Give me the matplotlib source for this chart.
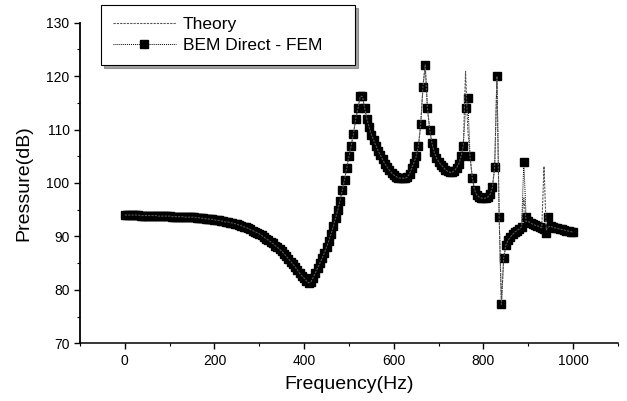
import matplotlib
matplotlib.use("Agg")
import matplotlib.pyplot as plt
from matplotlib.ticker import MultipleLocator

plt.rcParams['font.family'] = ['Liberation Sans', 'DejaVu Sans']

# frequency grid (Hz), 5 Hz step
freq_hz = list(range(0, 1001, 5))

# BEM Direct - FEM result (dB)
bem_db = [
    94.0, 94.0, 94.0, 94.0, 94.0, 94.0, 94.0, 93.9, 93.9, 93.9,
    93.9, 93.9, 93.9, 93.9, 93.9, 93.8, 93.8, 93.8, 93.8, 93.8,
    93.8, 93.7, 93.7, 93.7, 93.7, 93.7, 93.7, 93.6, 93.6, 93.6,
    93.6, 93.6, 93.5, 93.5, 93.4, 93.4, 93.3, 93.3, 93.2, 93.2,
    93.1, 93.0, 93.0, 92.9, 92.8, 92.7, 92.7, 92.6, 92.5, 92.4,
    92.3, 92.1, 92.0, 91.8, 91.7, 91.5, 91.3, 91.1, 90.9, 90.7,
    90.5, 90.2, 89.9, 89.6, 89.3, 89.0, 88.7, 88.3, 88.0, 87.6,
    87.2, 86.8, 86.3, 85.8, 85.3, 84.8, 84.3, 83.7, 83.1, 82.6,
    82.2, 81.7, 81.3, 81.5, 82.3, 83.2, 84.1, 85.0, 85.9, 86.9,
    88.0, 89.2, 90.5, 91.9, 93.4, 95.0, 96.7, 98.6, 100.6, 102.8,
    105.0, 107.0, 109.2, 112.0, 114.0, 116.2, 116.2, 114.0, 112.0, 110.4,
    109.0, 108.0, 107.0, 106.0, 105.2, 104.4, 103.6, 103.0, 102.4, 101.9,
    101.5, 101.2, 101.0, 100.9, 100.9, 100.9, 101.1, 101.7, 102.8, 103.8,
    105.0, 107.0, 111.0, 118.0, 122.1, 114.0, 110.0, 107.5, 105.8, 104.7,
    104.0, 103.4, 103.0, 102.5, 102.2, 102.0, 102.0, 102.3, 102.8, 103.6,
    105.0, 107.0, 114.0, 116.0, 105.0, 101.0, 98.7, 97.8, 97.4, 97.2,
    97.1, 97.2, 97.4, 97.9, 99.2, 103.0, 120.0, 93.7, 77.3, 85.9,
    88.4, 89.3, 89.9, 90.4, 90.8, 91.1, 91.4, 91.8, 104.0, 93.7,
    92.8, 92.5, 92.3, 92.1, 92.0, 91.8, 91.6, 91.3, 90.6, 93.7,
    91.9, 91.7, 91.6, 91.5, 91.4, 91.3, 91.2, 91.1, 91.0, 90.9,
    90.8,
]

# Theory curve (dB), same grid; differs from BEM only at the sharp resonances
theory_db = [
    94.0, 94.0, 94.0, 94.0, 94.0, 94.0, 94.0, 93.9, 93.9, 93.9,
    93.9, 93.9, 93.9, 93.9, 93.9, 93.8, 93.8, 93.8, 93.8, 93.8,
    93.8, 93.7, 93.7, 93.7, 93.7, 93.7, 93.7, 93.6, 93.6, 93.6,
    93.6, 93.6, 93.5, 93.5, 93.4, 93.4, 93.3, 93.3, 93.2, 93.2,
    93.1, 93.0, 93.0, 92.9, 92.8, 92.7, 92.7, 92.6, 92.5, 92.4,
    92.3, 92.1, 92.0, 91.8, 91.7, 91.5, 91.3, 91.1, 90.9, 90.7,
    90.5, 90.2, 89.9, 89.6, 89.3, 89.0, 88.7, 88.3, 88.0, 87.6,
    87.2, 86.8, 86.3, 85.8, 85.3, 84.8, 84.3, 83.7, 83.1, 82.6,
    82.2, 81.7, 81.3, 81.5, 82.3, 83.2, 84.1, 85.0, 85.9, 86.9,
    88.0, 89.2, 90.5, 91.9, 93.4, 95.0, 96.7, 98.6, 100.6, 102.8,
    105.0, 107.0, 109.2, 112.0, 114.0, 116.2, 116.2, 114.0, 112.0, 110.4,
    109.0, 108.0, 107.0, 106.0, 105.2, 104.4, 103.6, 103.0, 102.4, 101.9,
    101.5, 101.2, 101.0, 100.9, 100.9, 100.9, 101.1, 101.7, 102.8, 103.8,
    105.0, 107.0, 111.0, 118.0, 122.1, 114.0, 110.0, 107.5, 105.8, 104.7,
    104.0, 103.4, 103.0, 102.5, 102.2, 102.0, 102.0, 102.3, 102.8, 103.6,
    105.0, 107.0, 120.9, 110.0, 105.0, 101.0, 98.7, 97.8, 97.4, 97.2,
    97.1, 97.2, 97.4, 97.9, 99.2, 103.0, 120.0, 93.7, 77.3, 85.9,
    88.4, 89.3, 89.9, 90.4, 90.8, 91.1, 91.4, 91.8, 97.2, 92.8,
    92.8, 92.5, 92.3, 92.1, 92.0, 91.8, 91.6, 103.1, 91.2, 91.8,
    91.9, 91.7, 91.6, 91.5, 91.4, 91.3, 91.2, 91.1, 91.0, 90.9,
    90.8,
]

y_ticks = [70, 80, 90, 100, 110, 120, 130]
x_ticks = [0, 200, 400, 600, 800, 1000]

fig = plt.figure(figsize=(6.27, 4.01), dpi=100)
ax = fig.add_axes([0.1276, 0.1439, 0.8580, 0.7995])

ax.plot(freq_hz, theory_db, color='#555555', linewidth=0.8,
        linestyle=(0, (2, 1)), label='Theory', zorder=3)
ax.plot(freq_hz, bem_db, color='black', linewidth=0.7, linestyle=(0, (1, 1)),
        marker='s', markersize=6, markerfacecolor='black',
        markeredgecolor='black', label='BEM Direct - FEM', zorder=2)

ax.set_xlim(-100, 1100)
ax.set_ylim(70, 130)
ax.set_xticks(x_ticks)
ax.set_yticks(y_ticks)
ax.xaxis.set_minor_locator(MultipleLocator(100))
ax.yaxis.set_minor_locator(MultipleLocator(5))
ax.tick_params(which='major', direction='out', length=4.5, width=1.0,
               labelsize=10, pad=3)
ax.tick_params(which='minor', direction='out', length=2.5, width=0.8)

ax.spines['top'].set_visible(False)
ax.spines['right'].set_visible(False)
ax.spines['left'].set_linewidth(1.3)
ax.spines['bottom'].set_linewidth(1.1)

ax.set_xlabel('Frequency(Hz)', fontsize=14, labelpad=6)
ax.set_ylabel('Pressure(dB)', fontsize=14, labelpad=10)

# legend box: x 101..355 px, y 5..65 px in the figure
leg_w = 254 / 627
leg_h = 60 / 401
leg = ax.legend(loc='upper left',
                bbox_to_anchor=(101 / 627, 1 - 5 / 401 - leg_h, leg_w, leg_h),
                bbox_transform=fig.transFigure, mode='expand', fontsize=12.5,
                handlelength=3.6, handletextpad=0.4, borderpad=0.7,
                labelspacing=0.3, fancybox=False, shadow=True,
                frameon=True, borderaxespad=0)
leg.get_frame().set_edgecolor('black')
leg.get_frame().set_linewidth(0.8)

fig.savefig('out.png', dpi=100)
